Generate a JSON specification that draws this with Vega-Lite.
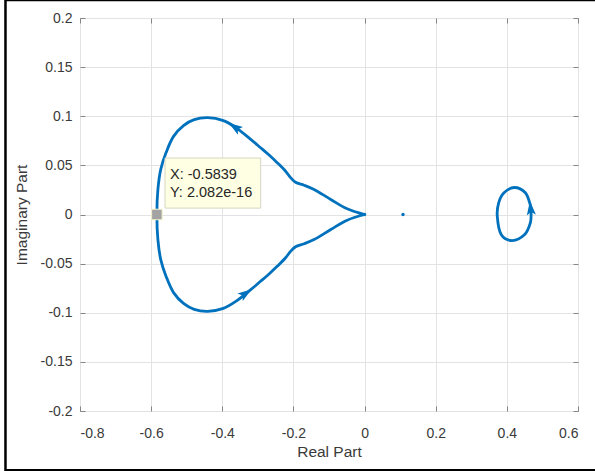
{
  "$schema": "https://vega.github.io/schema/vega-lite/v6.json",
  "width": 498,
  "height": 393,
  "autosize": {"type": "none"},
  "padding": {"left": 80, "top": 18, "right": 17, "bottom": 60},
  "background": "white",
  "config": {
    "font": "Liberation Sans",
    "view": {"stroke": "#858585", "strokeWidth": 1},
    "axis": {
      "labelFont": "Liberation Sans",
      "titleFont": "Liberation Sans",
      "labelFontSize": 14,
      "titleFontSize": 15.5,
      "titleFontWeight": "normal",
      "labelColor": "#3a3a3a",
      "titleColor": "#3a3a3a",
      "gridColor": "#e3e3e3",
      "gridWidth": 1,
      "domain": false,
      "tickColor": "#858585",
      "tickSize": 5
    }
  },
  "datasets": {
    "curve": [
      {"s": "loop", "o": 0, "re": 0, "im": 0},
      {"s": "loop", "o": 1, "re": -0.049, "im": 0.0058},
      {"s": "loop", "o": 2, "re": -0.095, "im": 0.0153},
      {"s": "loop", "o": 3, "re": -0.142, "im": 0.0255},
      {"s": "loop", "o": 4, "re": -0.17, "im": 0.0298},
      {"s": "loop", "o": 5, "re": -0.194, "im": 0.0328},
      {"s": "loop", "o": 6, "re": -0.208, "im": 0.0375},
      {"s": "loop", "o": 7, "re": -0.222, "im": 0.044},
      {"s": "loop", "o": 8, "re": -0.245, "im": 0.0525},
      {"s": "loop", "o": 9, "re": -0.27, "im": 0.061},
      {"s": "loop", "o": 10, "re": -0.294, "im": 0.0685},
      {"s": "loop", "o": 11, "re": -0.32, "im": 0.0765},
      {"s": "loop", "o": 12, "re": -0.362, "im": 0.0885},
      {"s": "loop", "o": 13, "re": -0.397, "im": 0.0955},
      {"s": "loop", "o": 14, "re": -0.441, "im": 0.0985},
      {"s": "loop", "o": 15, "re": -0.479, "im": 0.0965},
      {"s": "loop", "o": 16, "re": -0.509, "im": 0.0905},
      {"s": "loop", "o": 17, "re": -0.537, "im": 0.0795},
      {"s": "loop", "o": 18, "re": -0.558, "im": 0.063},
      {"s": "loop", "o": 19, "re": -0.573, "im": 0.0459},
      {"s": "loop", "o": 20, "re": -0.581, "im": 0.0255},
      {"s": "loop", "o": 21, "re": -0.5839, "im": 0},
      {"s": "loop", "o": 22, "re": -0.581, "im": -0.0255},
      {"s": "loop", "o": 23, "re": -0.573, "im": -0.0459},
      {"s": "loop", "o": 24, "re": -0.558, "im": -0.063},
      {"s": "loop", "o": 25, "re": -0.537, "im": -0.0795},
      {"s": "loop", "o": 26, "re": -0.509, "im": -0.0905},
      {"s": "loop", "o": 27, "re": -0.479, "im": -0.0965},
      {"s": "loop", "o": 28, "re": -0.441, "im": -0.0985},
      {"s": "loop", "o": 29, "re": -0.397, "im": -0.0955},
      {"s": "loop", "o": 30, "re": -0.362, "im": -0.0885},
      {"s": "loop", "o": 31, "re": -0.32, "im": -0.0765},
      {"s": "loop", "o": 32, "re": -0.294, "im": -0.0685},
      {"s": "loop", "o": 33, "re": -0.27, "im": -0.061},
      {"s": "loop", "o": 34, "re": -0.245, "im": -0.0525},
      {"s": "loop", "o": 35, "re": -0.222, "im": -0.044},
      {"s": "loop", "o": 36, "re": -0.208, "im": -0.0375},
      {"s": "loop", "o": 37, "re": -0.194, "im": -0.0328},
      {"s": "loop", "o": 38, "re": -0.17, "im": -0.0298},
      {"s": "loop", "o": 39, "re": -0.142, "im": -0.0255},
      {"s": "loop", "o": 40, "re": -0.095, "im": -0.0153},
      {"s": "loop", "o": 41, "re": -0.049, "im": -0.0058},
      {"s": "loop", "o": 42, "re": 0, "im": 0}
    ],
    "ellipse": [
      {"o": 0, "re": 0.468, "im": 0.0017},
      {"o": 1, "re": 0.466, "im": 0.0095},
      {"o": 2, "re": 0.452, "im": 0.0221},
      {"o": 3, "re": 0.421, "im": 0.0275},
      {"o": 4, "re": 0.392, "im": 0.0221},
      {"o": 5, "re": 0.377, "im": 0.0119},
      {"o": 6, "re": 0.373, "im": -0.0017},
      {"o": 7, "re": 0.384, "im": -0.0204},
      {"o": 8, "re": 0.415, "im": -0.0265},
      {"o": 9, "re": 0.45, "im": -0.0204},
      {"o": 10, "re": 0.466, "im": -0.0085}
    ],
    "arrows": [
      {"re": -0.364, "im": 0.0888, "dir": 304},
      {"re": -0.335, "im": -0.0805, "dir": 55},
      {"re": 0.467, "im": 0.006, "dir": -6}
    ],
    "dots": [
      {"re": 0, "im": 0},
      {"re": 0.108, "im": 0}
    ],
    "tip": [
      {"x1": -0.561, "x2": -0.292, "y1": 0.0575, "y2": 0.0065}
    ],
    "tiptext": [
      {"re": -0.547, "im": 0.0405, "label": "X: -0.5839"},
      {"re": -0.547, "im": 0.0222, "label": "Y: 2.082e-16"}
    ],
    "marker": [
      {"re": -0.5839, "im": 2.082e-16}
    ],
    "frame": [
      {"x1": -1.0095, "x2": 0.75, "y1": 0.2184, "y2": -0.2604}
    ]
  },
  "layer": [
    {
      "data": {"name": "curve"},
      "mark": {"type": "point", "opacity": 0},
      "encoding": {
        "x": {
          "field": "re", "type": "quantitative",
          "scale": {"domain": [-0.8, 0.6], "nice": false, "zero": false},
          "axis": {
            "title": "Real Part",
            "ticks": false,
            "values": [-0.8, -0.6, -0.4, -0.2, 0, 0.2, 0.4, 0.6],
            "labelExpr": "'' + datum.value",
            "labelPadding": 15,
            "titlePadding": 4
          }
        },
        "y": {
          "field": "im", "type": "quantitative",
          "scale": {"domain": [-0.2, 0.2], "nice": false, "zero": false},
          "axis": {
            "title": "Imaginary Part",
            "ticks": false,
            "values": [-0.2, -0.15, -0.1, -0.05, 0, 0.05, 0.1, 0.15, 0.2],
            "labelExpr": "'' + datum.value",
            "labelPadding": 8,
            "titlePadding": 11
          }
        }
      }
    },
    {
      "data": {"name": "dots"},
      "mark": {"type": "point", "opacity": 0},
      "encoding": {
        "x": {
          "field": "re", "type": "quantitative",
          "axis": {"orient": "top", "offset": -5, "labels": false, "grid": false, "title": null,
                   "values": [-0.8, -0.6, -0.4, -0.2, 0, 0.2, 0.4, 0.6]}
        },
        "y": {
          "field": "im", "type": "quantitative",
          "axis": {"orient": "right", "offset": -5, "labels": false, "grid": false, "title": null,
                   "values": [-0.2, -0.15, -0.1, -0.05, 0, 0.05, 0.1, 0.15, 0.2]}
        }
      }
    },
    {
      "data": {"name": "marker"},
      "mark": {"type": "point", "opacity": 0},
      "encoding": {
        "x": {
          "field": "re", "type": "quantitative",
          "axis": {"orient": "bottom", "offset": -5, "labels": false, "grid": false, "title": null,
                   "values": [-0.8, -0.6, -0.4, -0.2, 0, 0.2, 0.4, 0.6]}
        },
        "y": {
          "field": "im", "type": "quantitative",
          "axis": {"orient": "left", "offset": -5, "labels": false, "grid": false, "title": null,
                   "values": [-0.2, -0.15, -0.1, -0.05, 0, 0.05, 0.1, 0.15, 0.2]}
        }
      }
    },
    {
      "mark": {"type": "rule", "color": "#444444", "strokeWidth": 1.2, "strokeDash": [1.2, 2.8]},
      "encoding": {"x": {"datum": 0, "type": "quantitative", "axis": null}}
    },
    {
      "mark": {"type": "rule", "color": "#444444", "strokeWidth": 1.2, "strokeDash": [1.2, 2.8]},
      "encoding": {"y": {"datum": 0, "type": "quantitative", "axis": null}}
    },
    {
      "data": {"name": "curve"},
      "mark": {"type": "line", "color": "#0072BD", "strokeWidth": 2.8, "interpolate": "catmull-rom", "strokeJoin": "round"},
      "encoding": {
        "x": {"field": "re", "type": "quantitative", "axis": null},
        "y": {"field": "im", "type": "quantitative", "axis": null},
        "order": {"field": "o"}
      }
    },
    {
      "data": {"name": "ellipse"},
      "mark": {"type": "line", "color": "#0072BD", "strokeWidth": 2.8, "interpolate": "cardinal-closed"},
      "encoding": {
        "x": {"field": "re", "type": "quantitative", "axis": null},
        "y": {"field": "im", "type": "quantitative", "axis": null},
        "order": {"field": "o"}
      }
    },
    {
      "data": {"name": "arrows"},
      "mark": {"type": "point", "filled": true, "color": "#0072BD", "opacity": 1, "size": 230,
               "shape": "M0,-1L0.6,0.85L0,0.45L-0.6,0.85Z"},
      "encoding": {
        "x": {"field": "re", "type": "quantitative", "axis": null},
        "y": {"field": "im", "type": "quantitative", "axis": null},
        "angle": {"field": "dir", "type": "quantitative", "scale": null}
      }
    },
    {
      "data": {"name": "dots"},
      "mark": {"type": "circle", "color": "#0072BD", "opacity": 1, "size": 12},
      "encoding": {
        "x": {"field": "re", "type": "quantitative", "axis": null},
        "y": {"field": "im", "type": "quantitative", "axis": null}
      }
    },
    {
      "data": {"name": "tip"},
      "mark": {"type": "rect", "fill": "#FFFFE3", "stroke": "#d6d6c4", "strokeWidth": 1},
      "encoding": {
        "x": {"field": "x1", "type": "quantitative", "axis": null},
        "x2": {"field": "x2"},
        "y": {"field": "y1", "type": "quantitative", "axis": null},
        "y2": {"field": "y2"}
      }
    },
    {
      "data": {"name": "tiptext"},
      "mark": {"type": "text", "align": "left", "baseline": "middle", "font": "Liberation Sans", "fontSize": 14.5, "color": "#262626"},
      "encoding": {
        "x": {"field": "re", "type": "quantitative", "axis": null},
        "y": {"field": "im", "type": "quantitative", "axis": null},
        "text": {"field": "label"}
      }
    },
    {
      "data": {"name": "marker"},
      "mark": {"type": "square", "filled": true, "color": "#a3a3a3", "stroke": "#f2f2c8", "strokeWidth": 1, "opacity": 1, "size": 110},
      "encoding": {
        "x": {"field": "re", "type": "quantitative", "axis": null},
        "y": {"field": "im", "type": "quantitative", "axis": null}
      }
    },
    {
      "data": {"name": "frame"},
      "mark": {"type": "rect", "fill": null, "fillOpacity": 0, "stroke": "black", "strokeWidth": 2.5, "clip": false},
      "encoding": {
        "x": {"field": "x1", "type": "quantitative", "axis": null},
        "x2": {"field": "x2"},
        "y": {"field": "y1", "type": "quantitative", "axis": null},
        "y2": {"field": "y2"}
      }
    }
  ],
  "resolve": {"axis": {"x": "independent", "y": "independent"}}
}
